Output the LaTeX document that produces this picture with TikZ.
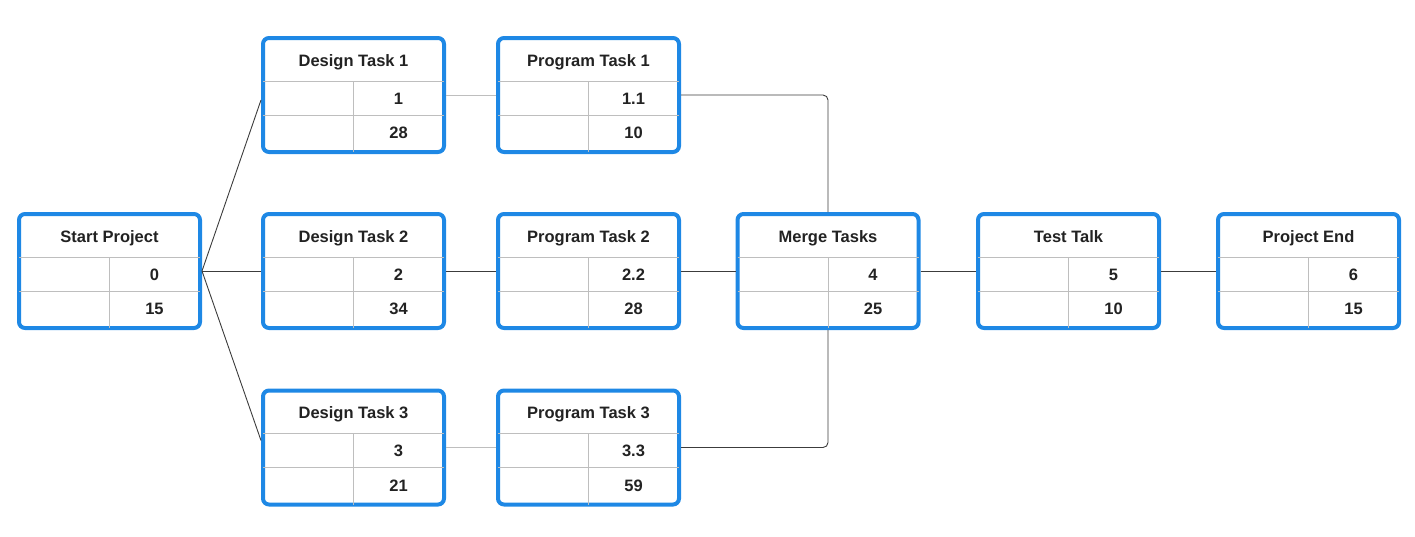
\documentclass[tikz,border=0pt]{standalone}
\usepackage{fontspec}
\setmainfont{Liberation Sans}
\usetikzlibrary{calc}
\definecolor{taskblue}{RGB}{30,136,229}
\definecolor{gridgray}{RGB}{190,190,190}
\definecolor{linkgray}{RGB}{60,60,60}
\definecolor{textdark}{RGB}{34,34,34}
\tikzset{
    task/.style={draw=taskblue, line width=4pt, rounded corners=6pt, fill=white,
        minimum width=181pt, minimum height=114pt, inner sep=0pt},
    tasktext/.style={anchor=base, inner sep=0pt, text=textdark,
        font=\fontsize{16.5}{19}\selectfont\bfseries},
    grid/.style={draw=gridgray, line width=1pt},
    link/.style={draw=linkgray, line width=0.9pt},
    lightlink/.style={draw=gridgray, line width=1pt}
}
% one task box: name, position, title, upper value, lower value
\newcommand{\taskbox}[5]{
    \node[task] (#1) at (#2) {};
    \draw[grid] ($(#1.west)+(2,-14)$) -- ($(#1.east)+(-2,-14)$);
    \draw[grid] ($(#1.west)+(2,20)$) -- ($(#1.east)+(-2,20)$);
    \draw[grid] ($(#1.center)+(0,-14)$) -- ($(#1.south)+(0,-2)$);
    \node[tasktext] (#1-t) at ($(#1.center)+(0,-29)$) {#3};
    \node[tasktext] (#1-a) at ($(#1.center)+(45,9)$) {#4};
    \node[tasktext] (#1-b) at ($(#1.center)+(45,43.5)$) {#5};
}
\begin{document}
\begin{tikzpicture}[x=1pt, y=-1pt]
    \useasboundingbox (0,0) rectangle (1415,536);
    \taskbox{start}{109.5,271}{Start Project}{0}{15}
    \taskbox{d1}{353.5,95}{Design Task 1}{1}{28}
    \taskbox{d2}{353.5,271}{Design Task 2}{2}{34}
    \taskbox{d3}{353.5,447.5}{Design Task 3}{3}{21}
    \taskbox{p1}{588.5,95}{Program Task 1}{1.1}{10}
    \taskbox{p2}{588.5,271}{Program Task 2}{2.2}{28}
    \taskbox{p3}{588.5,447.5}{Program Task 3}{3.3}{59}
    \taskbox{merge}{828,271}{Merge Tasks}{4}{25}
    \taskbox{test}{1068.5,271}{Test Talk}{5}{10}
    \taskbox{end}{1308.5,271}{Project End}{6}{15}
    % connectors
    \draw[link] (start.east) -- ($(d1.west)+(0,5)$);
    \draw[link] (start.east) -- (d2.west);
    \draw[link] (start.east) -- ($(d3.west)+(0,-7)$);
    \draw[lightlink] (d1.east) -- (p1.west);
    \draw[link] (d2.east) -- (p2.west);
    \draw[lightlink] (d3.east) -- (p3.west);
    \draw[link, rounded corners=5pt] (p1.east) -| (merge.north);
    \draw[link] (p2.east) -- (merge.west);
    \draw[link, rounded corners=5pt] (p3.east) -| (merge.south);
    \draw[link] (merge.east) -- (test.west);
    \draw[link] (test.east) -- (end.west);
\end{tikzpicture}
\end{document}
